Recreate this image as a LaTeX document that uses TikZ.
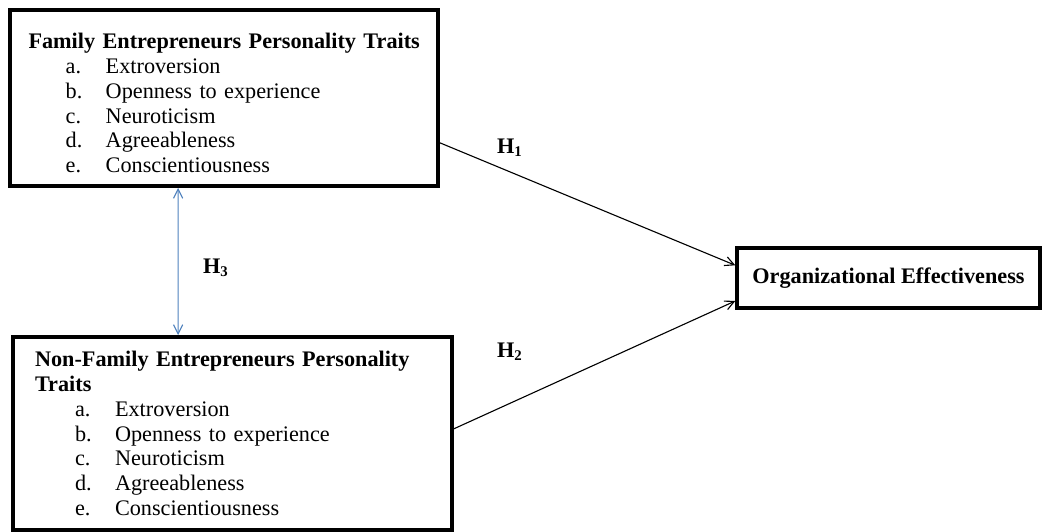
\documentclass[tikz,border=0pt]{standalone}
\usepackage{fontspec}
\setmainfont{Liberation Serif}
\usetikzlibrary{arrows.meta,calc}
\definecolor{linkblue}{HTML}{4F81BD}
\newcommand{\trait}[2]{\hspace*{21.6pt}\makebox[21.6pt][l]{#1}#2}

\begin{document}
\begin{tikzpicture}[x=0.54pt,y=-0.54pt,
  traitbox/.style={draw,line width=1.9pt,outer sep=0pt,anchor=north west,align=left,
    inner ysep=0pt,font=\fontsize{12}{13.4}\selectfont},
  hlabel/.style={font=\fontsize{12}{14}\selectfont\bfseries},
  link/.style={line width=0.6pt,-{Straight Barb[length=5pt,width=5pt]},shorten >=1pt}]
\useasboundingbox (0,0) rectangle (1044,532);

% the two groups of traits
\node[traitbox,text width=214pt,inner xsep=8.5pt,minimum height=95pt] (fam) at (10,10)
  {\rule{0pt}{14pt}\hspace*{1.5pt}\mbox{\textbf{Family Entrepreneurs Personality Traits}}\\
   \trait{a.}{Extroversion}\\
   \trait{b.}{Openness to experience}\\
   \trait{c.}{Neuroticism}\\
   \trait{d.}{Agreeableness}\\
   \trait{e.}{Conscientiousness}};

\node[traitbox,text width=213.3pt,inner xsep=11.9pt,minimum height=104.2pt] (nonfam) at (13,337)
  {\textbf{Non-Family Entrepreneurs Personality}\\
   \textbf{Traits}\\
   \trait{a.}{Extroversion}\\
   \trait{b.}{Openness to experience}\\
   \trait{c.}{Neuroticism}\\
   \trait{d.}{Agreeableness}\\
   \trait{e.}{Conscientiousness}};

% outcome
\node[draw,line width=1.9pt,outer sep=0pt,anchor=north west,minimum width=163.6pt,
  minimum height=32.4pt,font=\fontsize{12}{14}\selectfont\bfseries] (org) at (737,248)
  {Organizational Effectiveness};

% hypotheses
\draw[link] ($(fam.north east)!0.75!(fam.south east)$) -- ($(org.north west)!0.3!(org.south west)$);
\draw[link] ($(nonfam.north east)!0.48!(nonfam.south east)$) -- ($(org.north west)!0.87!(org.south west)$);
\draw[link,linkblue,{Straight Barb[length=5pt,width=5pt]}-{Straight Barb[length=5pt,width=5pt]},shorten <=1pt]
  ($(fam.south west)!0.393!(fam.south east)$) -- ($(nonfam.north west)!0.376!(nonfam.north east)$);

\node[hlabel] (h1) at (510,148) {H\textsubscript{1}};
\node[hlabel] (h2) at (510,352) {H\textsubscript{2}};
\node[hlabel] (h3) at (216,268) {H\textsubscript{3}};
\end{tikzpicture}
\end{document}
